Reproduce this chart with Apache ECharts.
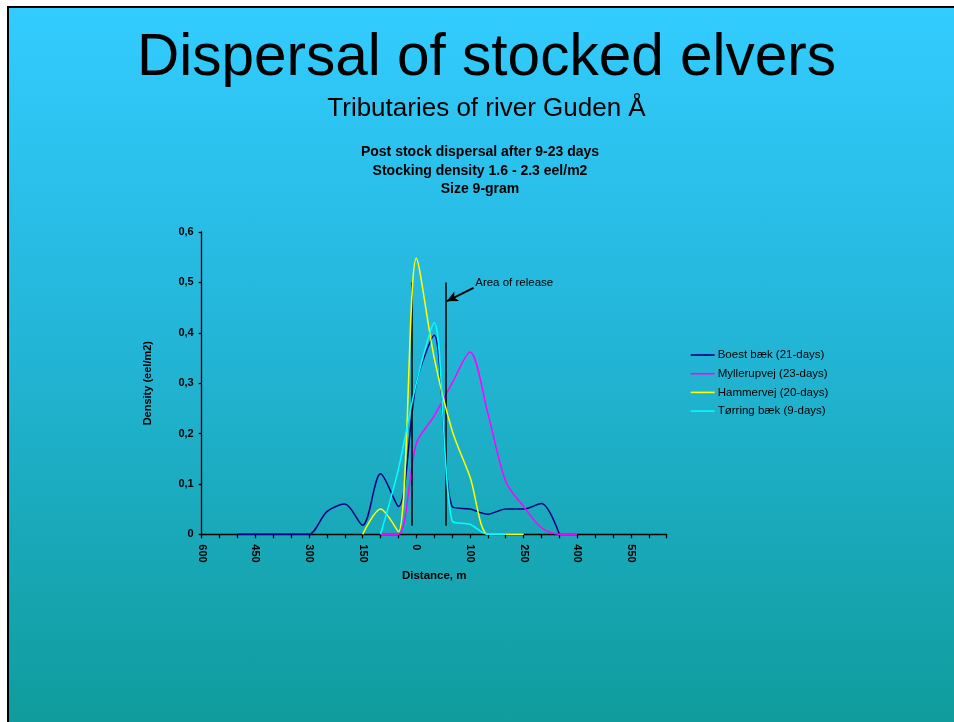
<!DOCTYPE html>
<html>
<head>
<meta charset="utf-8">
<script src="https://cdn.jsdelivr.net/npm/echarts@6/dist/echarts.min.js"></script>
<style>
  html, body { margin: 0; padding: 0; background: #ffffff; width: 954px; height: 722px; overflow: hidden; }
  #frame { position: absolute; left: 7px; top: 6px; width: 960px; height: 730px;
           border-left: 2px solid #000; border-top: 2px solid #000;
           background: linear-gradient(to bottom, #33CCFF 0%, #25B8DD 40%, #0F9B9A 100%); }
  #chart { position: absolute; left: 0; top: 0; width: 954px; height: 722px; }
</style>
</head>
<body>
<div id="frame"></div>
<div id="chart"></div>
<script>
// Distance categories (m), upstream 600 ... downstream 650
const categories = ['600','550','500','450','400','350','300','250','200','150','100','50','0','0','50','100','150','200','250','300','350','400','450','500','550','600','650'];
const yTickLabels = ['0','0,1','0,2','0,3','0,4','0,5','0,6'];

const seriesNames = ['Boest bæk (21-days)', 'Myllerupvej (23-days)', 'Hammervej (20-days)', 'Tørring bæk (9-days)'];
const seriesColors = ['#000080', '#FF00FF', '#FFFF00', '#00FFFF'];

const boest       = [null, null, 0, 0, 0, 0, 0, 0.045, 0.06, 0.018, 0.12, 0.055, 0.30, 0.395, 0.055, 0.05, 0.04, 0.05, 0.05, 0.061, 0, null, null, null, null, null, null];
const myllerupvej = [null, null, null, null, null, null, null, null, null, null, 0, 0, 0.18, 0.235, 0.30, 0.362, 0.24, 0.105, 0.055, 0.013, 0, 0, null, null, null, null, null];
const hammervej   = [null, null, null, null, null, null, null, null, null, 0, 0.05, 0.005, 0.548, 0.35, 0.206, 0.114, 0, 0, 0, null, null, null, null, null, null, null, null];
const torring     = [null, null, null, null, null, null, null, null, null, null, 0, 0.13, 0.30, 0.42, 0.027, 0.02, 0, 0, null, null, null, null, null, null, null, null, null];

// Release-area annotation (x in category index units, y in density)
const releaseLinesX = [11.74, 13.64];
const releaseLineTop = 0.5;
const releaseLineBottom = 0.017;
const arrowFrom = [15.2, 0.489];
const arrowTo = [13.71, 0.4626];
const releaseLabelAt = [15.07, 0.5];
const releaseLabel = 'Area of release';

const FONT = '"Liberation Sans", Arial, sans-serif';
const allData = [boest, myllerupvej, hammervej, torring];

const chart = echarts.init(document.getElementById('chart'), null, { renderer: 'canvas' });

const series = allData.map((arr, k) => ({
  name: seriesNames[k],
  type: 'line',
  data: arr.map((v, i) => [i, v]),
  symbol: 'none',
  showSymbol: false,
  smooth: 0.3,
  connectNulls: false,
  animation: false,
  lineStyle: { color: seriesColors[k], width: 1.5 },
  itemStyle: { color: seriesColors[k] },
  z: 3 + k
}));

series[0].markLine = {
  silent: true,
  animation: false,
  symbol: 'none',
  label: { show: false },
  lineStyle: { color: '#000', width: 1.5, type: 'solid' },
  data: releaseLinesX.map(x => [{ coord: [x, releaseLineTop] }, { coord: [x, releaseLineBottom] }]).concat([
    [{ coord: arrowFrom, symbol: 'none' }, { coord: arrowTo, symbol: 'arrow', symbolSize: [8, 11], lineStyle: { width: 2 } }]
  ])
};
series[0].markPoint = {
  silent: true,
  animation: false,
  symbol: 'circle',
  symbolSize: 0,
  data: [{
    coord: releaseLabelAt,
    label: { show: true, position: 'right', distance: 4, formatter: releaseLabel, color: '#000', fontSize: 11.5, fontFamily: FONT }
  }]
};

const option = {
  backgroundColor: 'transparent',
  animation: false,
  textStyle: { fontFamily: FONT },
  graphic: [
    { type: 'text', x: 486.5, y: 59, style: { text: 'Dispersal of stocked elvers', textAlign: 'center', textVerticalAlign: 'middle', font: '58.5px ' + FONT, fill: '#000' } },
    { type: 'text', x: 486.5, y: 108.5, style: { text: 'Tributaries of river Guden Å', textAlign: 'center', textVerticalAlign: 'middle', font: '26px ' + FONT, fill: '#000' } },
    { type: 'text', x: 480, y: 152, style: { text: 'Post stock dispersal after 9-23 days', textAlign: 'center', textVerticalAlign: 'middle', font: 'bold 14px ' + FONT, fill: '#000' } },
    { type: 'text', x: 480, y: 170.7, style: { text: 'Stocking density 1.6 - 2.3 eel/m2', textAlign: 'center', textVerticalAlign: 'middle', font: 'bold 14px ' + FONT, fill: '#000' } },
    { type: 'text', x: 480, y: 189.2, style: { text: 'Size 9-gram', textAlign: 'center', textVerticalAlign: 'middle', font: 'bold 14px ' + FONT, fill: '#000' } }
  ],
  grid: { left: 201.7, right: 287.3, top: 232, bottom: 187.7, containLabel: false },
  legend: {
    orient: 'vertical',
    left: 690.7,
    top: 348,
    padding: 0,
    icon: 'rect',
    itemWidth: 24,
    itemHeight: 1.6,
    itemGap: 4.7,
    data: seriesNames,
    textStyle: { color: '#000', fontSize: 11.5, fontFamily: FONT, lineHeight: 14, padding: [0, 0, 0, -2] },
    selectedMode: false
  },
  xAxis: {
    type: 'value',
    min: 0,
    max: categories.length - 1,
    interval: 1,
    name: 'Distance, m',
    nameLocation: 'middle',
    nameGap: 36,
    nameTextStyle: { color: '#000', fontWeight: 'bold', fontSize: 11.5, fontFamily: FONT },
    splitLine: { show: false },
    axisLine: { show: true, onZero: false, lineStyle: { color: '#000', width: 1.3 } },
    axisTick: { show: true, length: 4, lineStyle: { color: '#000', width: 1.3 } },
    axisLabel: {
      rotate: -90,
      margin: 10,
      color: '#000',
      fontWeight: 'bold',
      fontSize: 11,
      fontFamily: FONT,
      showMinLabel: true,
      showMaxLabel: true,
      hideOverlap: false,
      formatter: v => (v % 3 === 0 ? categories[v] : '')
    }
  },
  yAxis: {
    type: 'value',
    min: 0,
    max: 0.6,
    interval: 0.1,
    name: 'Density (eel/m2)',
    nameLocation: 'middle',
    nameGap: 48,
    nameRotate: 90,
    nameTextStyle: { color: '#000', fontWeight: 'bold', fontSize: 11, fontFamily: FONT },
    splitLine: { show: false },
    axisLine: { show: true, lineStyle: { color: '#000', width: 1.3 } },
    axisTick: { show: true, length: 3, lineStyle: { color: '#000', width: 1.3 } },
    axisLabel: {
      margin: 8,
      color: '#000',
      fontWeight: 'bold',
      fontSize: 11,
      fontFamily: FONT,
      formatter: v => yTickLabels[Math.round(v * 10)]
    }
  },
  series: series
};

chart.setOption(option);
</script>
</body>
</html>
